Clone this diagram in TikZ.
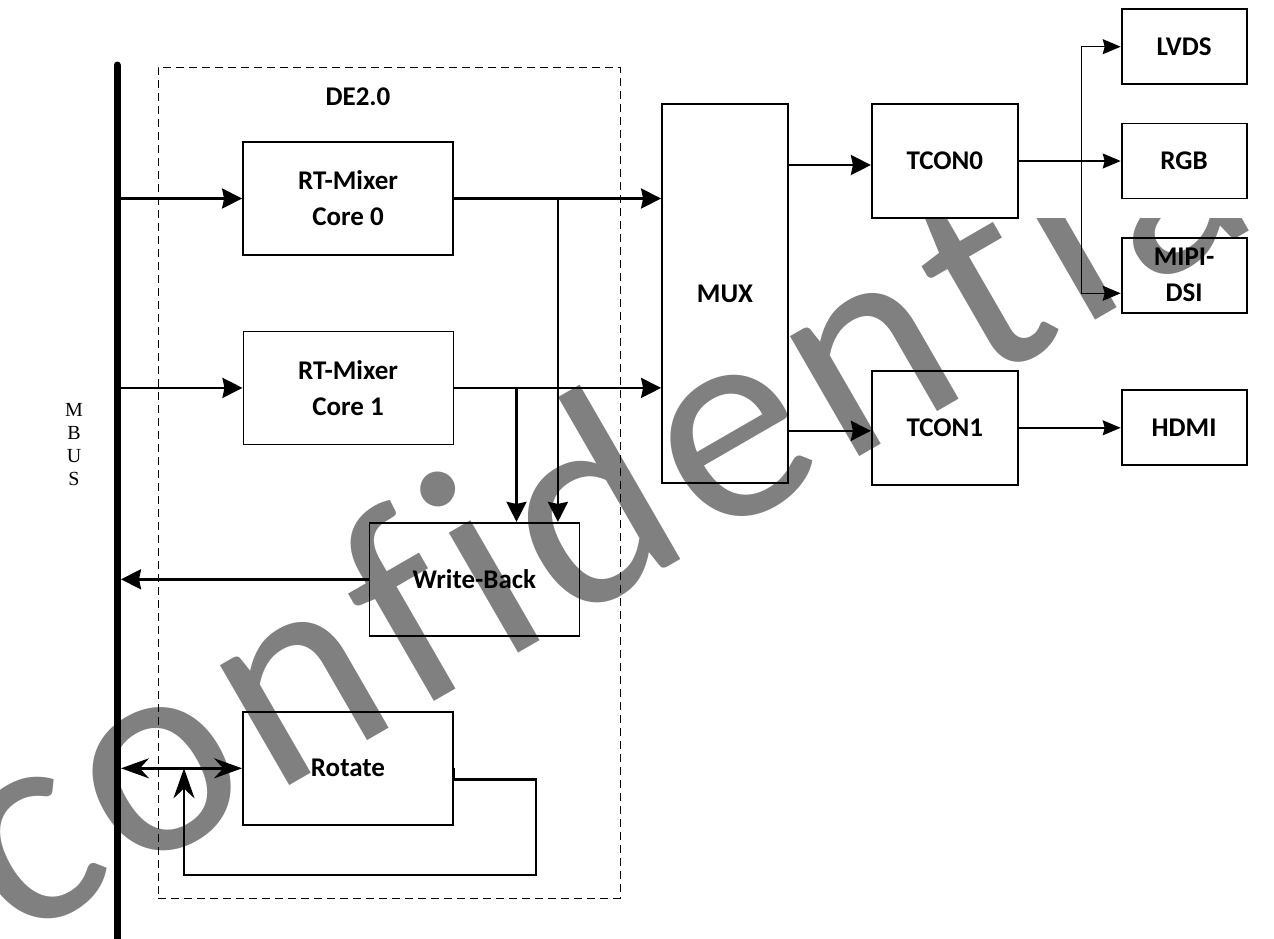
\documentclass[tikz,border=0pt]{standalone}
\usepackage{fontspec}
\setmainfont{Carlito}
\newfontfamily\busfont{Liberation Serif}
\usetikzlibrary{arrows.meta,positioning,calc}
\definecolor{wmgray}{RGB}{128,128,128}
\newcommand{\wmsp}{\kern5.45pt}

\begin{document}
\begin{tikzpicture}[x=0.5pt,y=-0.5pt,
  blk/.style={draw,line width=0.9pt,minimum width=105pt,minimum height=56.5pt,inner sep=0pt,align=center,font=\fontsize{13.5}{18}\selectfont\bfseries},
  outblk/.style={blk,minimum width=62.5pt,minimum height=37.5pt},
  conn/.style={line width=1.3pt,-{Stealth[length=10pt,width=10pt,inset=1pt]}},
  thinconn/.style={line width=0.7pt,-{Stealth[length=9pt,width=7.5pt,inset=1pt]}}]
\useasboundingbox (0,0) rectangle (1274,938);
% watermark
\begin{scope}
\clip (0,0) -- (872,0) -- (872,218) -- (1274,218) -- (1274,938) -- (0,938) -- cycle;
\node[anchor=base west,rotate=30,inner sep=0pt,text=wmgray,font=\fontsize{145}{145}\selectfont] (wm) at (15,944)
  {c\wmsp o\wmsp n\wmsp f\wmsp i\wmsp d\wmsp e\wmsp n\wmsp t\wmsp i\wmsp a\wmsp l};
\end{scope}
% MBUS
\coordinate (bustop) at (117,65);
\coordinate (busbot) at (117,945);
\coordinate (busR) at (121,65);
\draw[line width=3.5pt,line cap=round] (bustop) -- (busbot);
\node[font=\busfont\fontsize{10}{11.5}\selectfont,align=center] (buslbl) at (74,444.5) {M\\B\\U\\S};
% DE2.0 group
\node[draw,dash pattern=on 4pt off 2.5pt,line width=0.5pt,minimum width=231pt,minimum height=415.5pt] (de) at (389,482.5) {};
\node[font=\fontsize{13.5}{18}\selectfont\bfseries] (delbl) at (358,97) {DE2.0};
\node[blk] (mix0) at (348,198.5) {RT-Mixer\\Core 0};
\node[blk,line width=0.5pt,below=37.5pt of mix0] (mix1) {RT-Mixer\\Core 1};
\node[blk,below right=38.5pt and 63pt of mix1.south west] (wb) {Write-Back};
\node[blk,below=133pt of mix1] (rot) {Rotate};
% display path
\node[blk,minimum width=63pt,minimum height=189.5pt] (mux) at (725,293.5) {MUX};
\node[blk,minimum width=73pt,minimum height=57pt,right=41pt of mux.north east,anchor=north west] (tcon0) {TCON0};
\node[blk,minimum width=73pt,minimum height=57pt,below=75.5pt of tcon0] (tcon1) {TCON1};
\node[outblk,right=51pt of tcon0] (rgb) {RGB};
\node[outblk,above=18.75pt of rgb] (lvds) {LVDS};
\node[outblk,below=18.75pt of rgb] (mipi) {MIPI-\\DSI};
\node[outblk,right=51pt of tcon1] (hdmi) {HDMI};
% connectors
\draw[conn] (mix0.west -| bustop) -- (mix0.west);
\draw[conn] (mix1.west -| bustop) -- (mix1.west);
\draw[conn] (mix0.east) -- (mix0.east -| mux.west);
\draw[conn] (mix1.east) -- (mix1.east -| mux.west);
\coordinate (tap0) at ($(mix0.east)+(104,0)$);
\coordinate (tap1) at ($(mix1.east)+(63,0)$);
\draw[conn] (tap0) -- (tap0 |- wb.north);
\draw[conn] (tap1) -- (tap1 |- wb.north);
\draw[conn] (wb.west) -- (wb.west -| busR);
\draw[conn] ([yshift=-2pt]tcon0.west -| mux.east) -- ([yshift=-2pt]tcon0.west);
\draw[conn] ([yshift=-1.5pt]tcon1.west -| mux.east) -- ([yshift=-1.5pt]tcon1.west);
\draw[thinconn] (tcon0.east) -- (rgb.west);
\coordinate (split) at ($(tcon0.east)+(63,0)$);
\draw[thinconn] (split) |- (lvds.west);
\draw[thinconn] (split) |- ($(mipi.west)+(0,18)$);
\draw[thinconn] (tcon1.east) -- (hdmi.west);
% rotate loop
\coordinate (loopbr) at (536,875);
\coordinate (loopbl) at (184,875);
\draw[line width=1.3pt,{Stealth[length=14pt,width=10pt]}-{Stealth[length=14pt,width=10pt]}] (rot.west -| busR) -- (rot.west);
\draw[line width=1.3pt,-{Stealth[length=15pt,width=10.5pt]}] (rot.east) -- ++(0,11) -| (loopbr) -| (loopbl |- rot.west);
\end{tikzpicture}
\end{document}
